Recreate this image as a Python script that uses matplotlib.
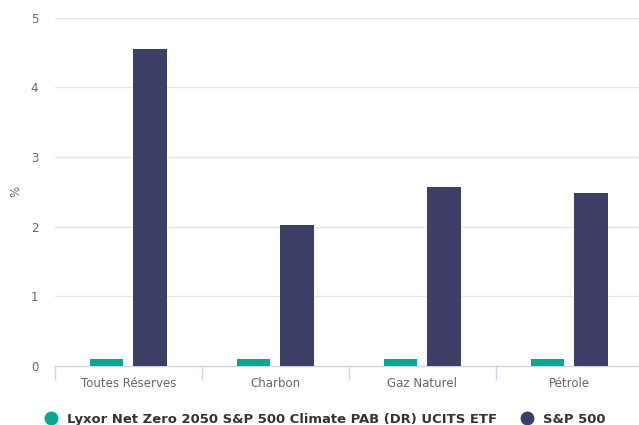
import matplotlib
matplotlib.use("Agg")
import matplotlib.pyplot as plt
from matplotlib.lines import Line2D
import numpy as np

# Categories and series values (%)
categories = ["Toutes Réserves", "Charbon", "Gaz Naturel", "Pétrole"]
etf_values = [0.10, 0.10, 0.10, 0.10]
sp500_values = [4.55, 2.03, 2.57, 2.49]
series_names = ["Lyxor Net Zero 2050 S&P 500 Climate PAB (DR) UCITS ETF", "S&P 500"]
colors = ["#00a98f", "#3d3f66"]

fig = plt.figure(figsize=(6.39, 4.25), dpi=100)
ax = fig.add_axes([0.086, 0.139, 0.920, 0.819])

x = np.arange(len(categories))
w = 0.23
gap = 0.068
ax.bar(x - (w + gap) / 2, etf_values, w, color=colors[0], zorder=3)
ax.bar(x + (w + gap) / 2, sp500_values, w, color=colors[1], zorder=3)

ax.set_xlim(-0.5, len(categories) - 0.5)
ax.set_ylim(0, 5)
ax.set_yticks(range(0, 6))
ax.yaxis.grid(True, color="#e6e6e6", linewidth=1, zorder=0)

for side in ["top", "right", "left"]:
    ax.spines[side].set_visible(False)
ax.spines["bottom"].set_color("#ccd6eb")
ax.spines["bottom"].set_linewidth(1)

# category labels at centres, tick marks at the boundaries
ax.set_xticks(x)
ax.set_xticklabels(categories)
ax.set_xticks(np.arange(-0.5, len(categories)), minor=True)
ax.tick_params(axis="x", which="major", length=0, pad=8, labelsize=8.5, labelcolor="#666666")
ax.tick_params(axis="x", which="minor", length=10, color="#ccd6eb", width=1)
ax.tick_params(axis="y", length=0, pad=12, labelsize=8.5, labelcolor="#666666")

ax.set_ylabel("%", color="#666666", fontsize=8.5, labelpad=6)

handles = [Line2D([0], [0], marker="o", linestyle="", markersize=9,
                  markerfacecolor=c, markeredgecolor=c) for c in colors]
leg = fig.legend(handles, series_names, loc="lower center", bbox_to_anchor=(0.503, -0.03),
                 ncol=2, frameon=False, handletextpad=0.2, columnspacing=1.3,
                 prop={"weight": "bold", "size": 9.45})
for t in leg.get_texts():
    t.set_color("#333333")

fig.savefig("out.png", dpi=100)
